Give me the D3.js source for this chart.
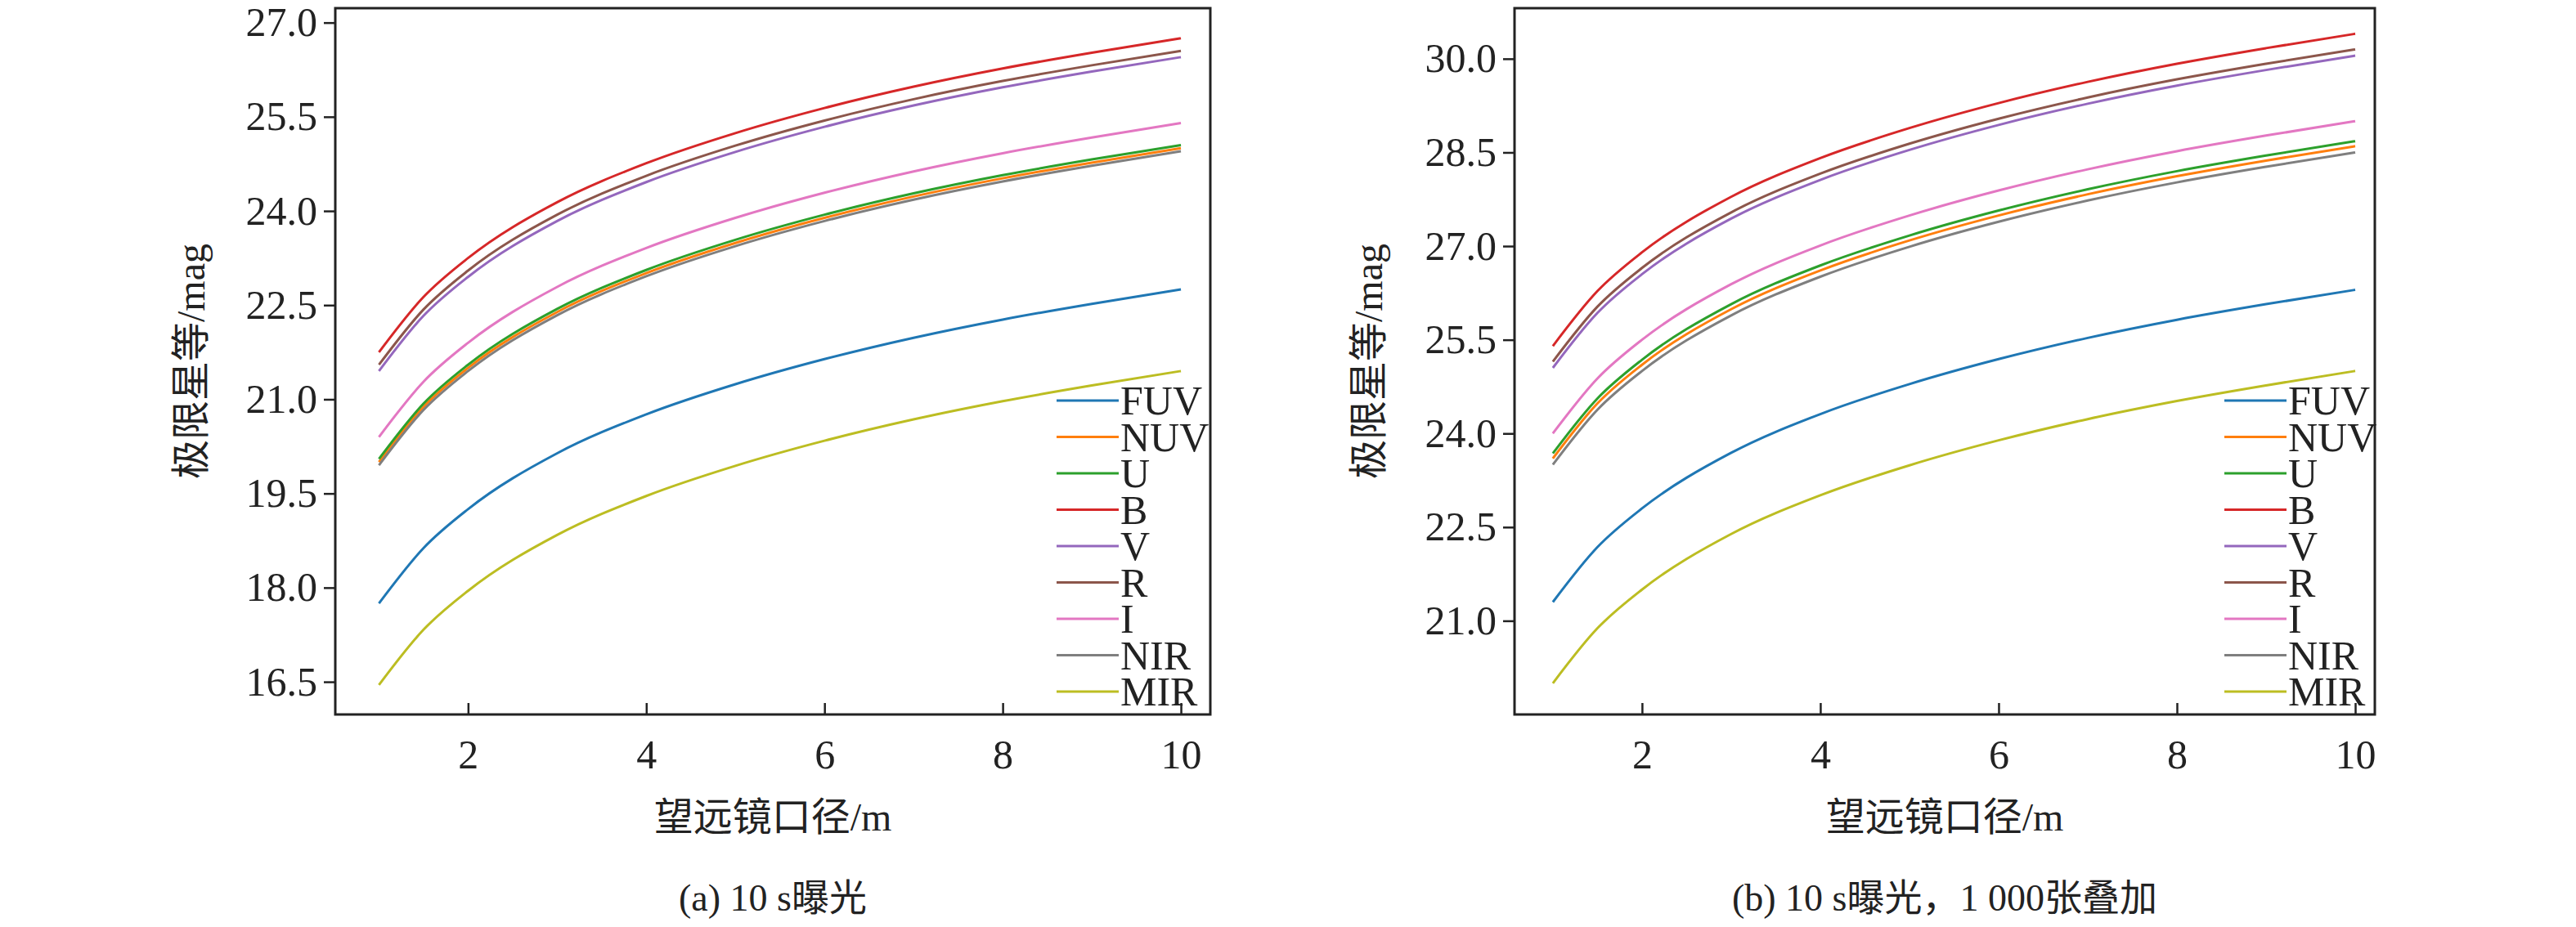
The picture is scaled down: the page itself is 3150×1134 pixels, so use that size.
<!DOCTYPE html><html><head><meta charset="utf-8"><script src="https://cdn.jsdelivr.net/npm/d3@7"></script>
<style>body{margin:0;background:#fff}text{font-family:"Liberation Serif","Times New Roman","Noto Sans CJK SC",serif;fill:#222}</style></head><body><svg id="c" width="3150" height="1134"></svg><script>
const D=[1,1.5,2,3,4,5,6,7,8,9,10];
const bands=["FUV","NUV","U","B","V","R","I","NIR","MIR"];
const colors=["#1f77b4","#ff7f0e","#2ca02c","#d62728","#9467bd","#8c564b","#e377c2","#7f7f7f","#bcbd22"];
const leftFUV=[17.75,18.63,19.25,20.14,20.76,21.24,21.64,21.98,22.27,22.52,22.75];
const leftNUV=[20.0,20.88,21.5,22.39,23.01,23.49,23.89,24.23,24.52,24.77,25.0];
const leftU=[20.05,20.93,21.55,22.44,23.06,23.54,23.94,24.28,24.57,24.82,25.05];
const leftB=[21.75,22.63,23.25,24.14,24.76,25.24,25.64,25.98,26.27,26.52,26.75];
const leftV=[21.45,22.33,22.95,23.84,24.46,24.94,25.34,25.68,25.97,26.22,26.45];
const leftR=[21.55,22.43,23.05,23.94,24.56,25.04,25.44,25.78,26.07,26.32,26.55];
const leftI=[20.4,21.28,21.9,22.79,23.41,23.89,24.29,24.63,24.92,25.17,25.4];
const leftNIR=[19.95,20.83,21.45,22.34,22.96,23.44,23.84,24.18,24.47,24.72,24.95];
const leftMIR=[16.45,17.33,17.95,18.84,19.46,19.94,20.34,20.68,20.97,21.22,21.45];
const rightFUV=[21.3,22.18,22.8,23.69,24.31,24.79,25.19,25.53,25.82,26.07,26.3];
const rightNUV=[23.6,24.48,25.1,25.99,26.61,27.09,27.49,27.83,28.12,28.37,28.6];
const rightU=[23.68,24.56,25.18,26.07,26.69,27.17,27.57,27.91,28.2,28.45,28.68];
const rightB=[25.4,26.28,26.9,27.79,28.41,28.89,29.29,29.63,29.92,30.17,30.4];
const rightV=[25.05,25.93,26.55,27.44,28.06,28.54,28.94,29.28,29.57,29.82,30.05];
const rightR=[25.15,26.03,26.65,27.54,28.16,28.64,29.04,29.38,29.67,29.92,30.15];
const rightI=[24.0,24.88,25.5,26.39,27.01,27.49,27.89,28.23,28.52,28.77,29.0];
const rightNIR=[23.5,24.38,25.0,25.89,26.51,26.99,27.39,27.73,28.02,28.27,28.5];
const rightMIR=[20.0,20.88,21.5,22.39,23.01,23.49,23.89,24.23,24.52,24.77,25.0];
const xTicks=[2,4,6,8,10];
const leftYTicks=[16.5,18.0,19.5,21.0,22.5,24.0,25.5,27.0];
const rightYTicks=[21.0,22.5,24.0,25.5,27.0,28.5,30.0];
const yLabel="极限星等/mag", xLabel="望远镜口径/m";
const captions=["(a) 10 s曝光","(b) 10 s曝光，1 000张叠加"];
const svg=d3.select("#c");
function panel(o){
  const g=svg.append("g");
  const x=d3.scaleLinear().domain(o.xd).range([o.x0,o.x1]);
  const y=d3.scaleLinear().domain(o.yd).range([o.y1,o.y0]);
  g.append("rect").attr("x",o.x0).attr("y",o.y0).attr("width",o.x1-o.x0).attr("height",o.y1-o.y0).attr("fill","none").attr("stroke","#222").attr("stroke-width",3);
  const ya=g.append("g").attr("transform",`translate(${o.x0},0)`).call(d3.axisLeft(y).tickValues(o.yt).tickFormat(d3.format(".1f")).tickSize(14).tickPadding(8));
  const xa=g.append("g").attr("transform",`translate(0,${o.y1})`).call(d3.axisBottom(x).tickValues(xTicks).tickSize(-14).tickPadding(30));
  [ya,xa].forEach(a=>{a.select(".domain").remove();a.selectAll("line").attr("stroke","#222").attr("stroke-width",2.5);a.selectAll("text").style("font-size","50px").style("font-family","Liberation Serif").attr("fill","#222");});
  const line=d3.line().x((d,i)=>x(D[i])).y(d=>y(d)).curve(d3.curveMonotoneX);
  o.series.forEach((s,i)=>g.append("path").attr("d",line(s)).attr("fill","none").attr("stroke",colors[i]).attr("stroke-width",3));
  bands.forEach((b,i)=>{const yy=o.ly+44.5*i;
    g.append("line").attr("x1",o.lx).attr("x2",o.lx+76).attr("y1",yy).attr("y2",yy).attr("stroke",colors[i]).attr("stroke-width",3);
    g.append("text").attr("x",o.lx+78).attr("y",yy+17).style("font-size","50px").text(b);});
  g.append("text").attr("transform",`translate(${o.ylx},${(o.y0+o.y1)/2}) rotate(-90)`).attr("text-anchor","middle").style("font-size","48px").text(yLabel);
  g.append("text").attr("x",(o.x0+o.x1)/2).attr("y",1016).attr("text-anchor","middle").style("font-size","48px").text(xLabel);
  g.append("text").attr("x",(o.x0+o.x1)/2).attr("y",1114).attr("text-anchor","middle").style("font-size","46px").text(o.cap);
}
panel({x0:410,x1:1480,y0:10,y1:874,xd:[0.51,10.33],yd:[15.98,27.23],yt:leftYTicks,series:[leftFUV,leftNUV,leftU,leftB,leftV,leftR,leftI,leftNIR,leftMIR],lx:1292,ly:490,ylx:250,cap:captions[0]});
panel({x0:1852,x1:2904,y0:10,y1:874,xd:[0.57,10.22],yd:[19.5,30.81],yt:rightYTicks,series:[rightFUV,rightNUV,rightU,rightB,rightV,rightR,rightI,rightNIR,rightMIR],lx:2720,ly:490,ylx:1690,cap:captions[1]});
</script></body></html>
